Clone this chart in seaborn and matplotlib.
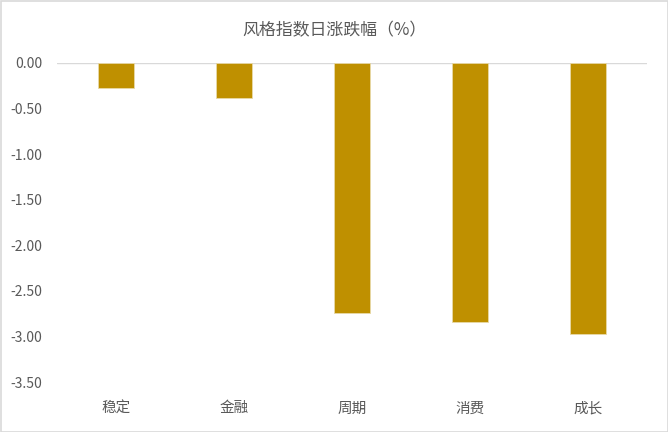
import matplotlib
matplotlib.use("Agg")
import matplotlib.pyplot as plt
import seaborn as sns
import pandas as pd
from matplotlib.patches import Rectangle

categories = ["稳定", "金融", "周期", "消费", "成长"]
values = [-0.27, -0.38, -2.74, -2.84, -2.97]
yticks = [0.0, -0.5, -1.0, -1.5, -2.0, -2.5, -3.0, -3.5]
title = "风格指数日涨跌幅（%）"

sns.set_theme(style="white")
plt.rcParams['font.family'] = ['Noto Sans CJK SC', 'DejaVu Sans']
plt.rcParams['axes.unicode_minus'] = False

df = pd.DataFrame({"cat": categories, "val": values})

fig = plt.figure(figsize=(6.68, 4.32), dpi=100)
ax = fig.add_axes([57/668, 1-382/432, 590/668, 319/432])
sns.barplot(data=df, x="cat", y="val", color="#BF9000", width=0.31,
            saturation=1, ax=ax, edgecolor="#E8D9A8", linewidth=0.6)

ax.set_ylim(-3.5, 0)
ax.set_yticks(yticks)
ax.set_yticklabels([f"{v:.2f}" for v in yticks], color="#595959", fontsize=10)
ax.tick_params(axis='x', colors="#595959", labelsize=10.5, length=0, pad=14)
ax.tick_params(axis='y', length=0, pad=10.5)
for s in ax.spines.values():
    s.set_visible(False)
ax.axhline(0, color="#D9D9D9", linewidth=1, zorder=0)
ax.set_xlabel("")
ax.set_ylabel("")
ax.set_xlim(-0.5, 4.5)

fig.text(0.5, 1-30/432, title, ha="center", va="center", fontsize=12.2, color="#595959")
fig.patches.append(Rectangle((0.5/668, 0.5/432), 1-1/668, 1-1/432, transform=fig.transFigure,
                             fill=False, edgecolor="#D9D9D9", linewidth=1.2))

fig.savefig("out.png", dpi=100)
